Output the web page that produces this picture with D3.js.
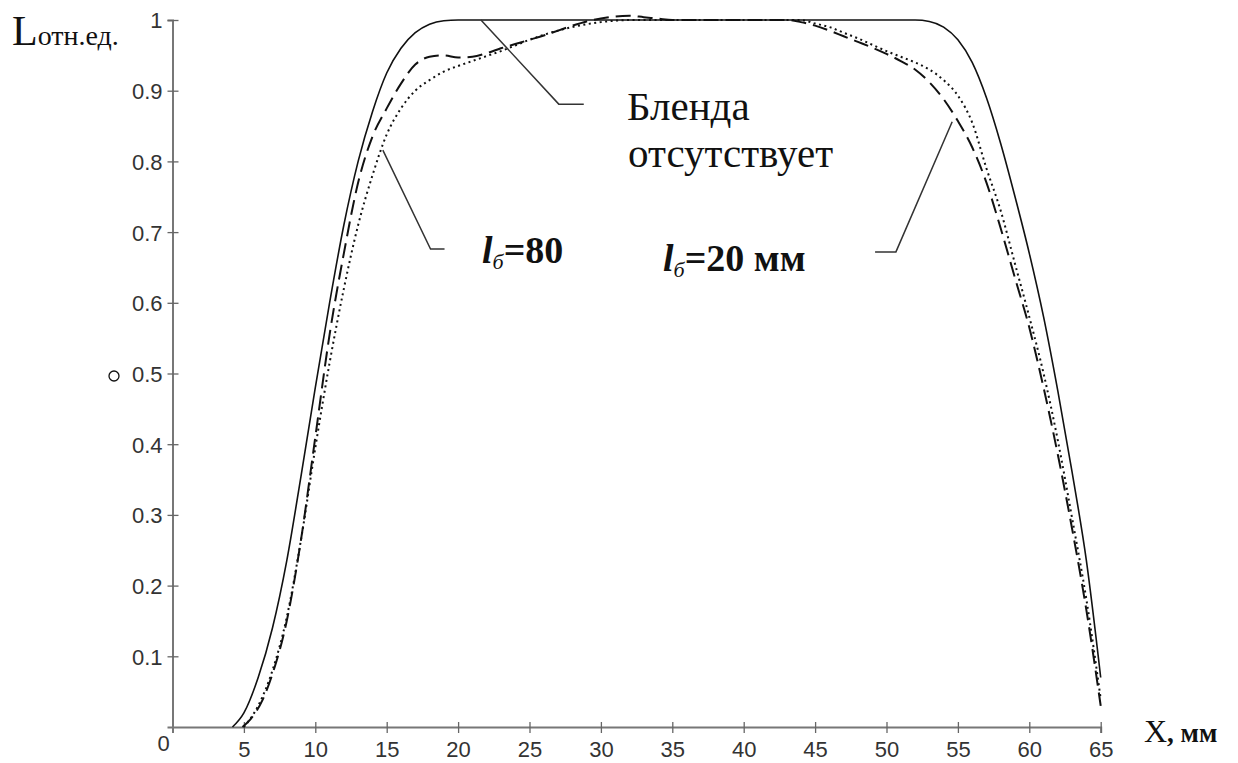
<!DOCTYPE html>
<html>
<head>
<meta charset="utf-8">
<script src="https://cdn.jsdelivr.net/npm/d3@7"></script>
<style>
  html, body { margin: 0; padding: 0; background: #fff; }
  svg { display: block; }
  .tick text { font-family: "Liberation Sans", Arial, sans-serif; font-size: 22px; fill: #333; }
</style>
</head>
<body>
<svg id="chart" width="1238" height="763"></svg>
<script>
// Luminance profile across the field, X in mm, L in relative units

// Tick labels
const xTicks = [5, 10, 15, 20, 25, 30, 35, 40, 45, 50, 55, 60, 65];
const yTicks = [0.1, 0.2, 0.3, 0.4, 0.5, 0.6, 0.7, 0.8, 0.9, 1];

// No hood (solid)
const noHoodX = [4.2, 5, 6, 7, 8, 9, 10, 11, 12, 13, 14, 15, 16, 17, 18, 19, 20, 25, 30, 35, 40, 45, 50, 52, 53, 54, 55, 56, 57, 58, 59, 60, 61, 62, 63, 64, 65];
const noHoodL = [0, 0.02, 0.07, 0.14, 0.235, 0.355, 0.48, 0.6, 0.71, 0.8, 0.87, 0.925, 0.96, 0.982, 0.994, 0.999, 1, 1, 1, 1, 1, 1, 1, 1, 0.998, 0.99, 0.972, 0.94, 0.89, 0.825, 0.75, 0.67, 0.58, 0.475, 0.36, 0.235, 0.07];

// Hood length 20 mm (long dashes)
const hood20X = [4.9, 5.5, 6.3, 7, 8, 9, 10, 11, 12, 13, 14, 15, 16, 17, 18, 19, 20, 21, 22, 23, 24, 25, 26, 27, 28, 29, 30, 31, 32, 33, 34, 35, 43, 44, 45, 46, 47, 48, 49, 50, 51, 52, 53, 54, 55, 56, 57, 58, 59, 60, 61, 62, 63, 64, 65];
const hood20L = [0, 0.012, 0.038, 0.075, 0.15, 0.265, 0.41, 0.555, 0.67, 0.77, 0.835, 0.875, 0.91, 0.937, 0.948, 0.95, 0.947, 0.948, 0.953, 0.96, 0.966, 0.972, 0.978, 0.985, 0.992, 0.998, 1.002, 1.005, 1.006, 1.004, 1.002, 1, 1, 0.997, 0.992, 0.985, 0.977, 0.969, 0.961, 0.952, 0.942, 0.93, 0.912, 0.888, 0.857, 0.82, 0.77, 0.705, 0.635, 0.565, 0.48, 0.385, 0.28, 0.165, 0.03];

// Hood length 80 mm (dotted)
const hood80X = [5, 6, 7, 8, 9, 10, 11, 12, 13, 14, 15, 16, 17, 18, 19, 20, 21, 22, 23, 24, 25, 26, 27, 28, 29, 30, 31, 32, 44, 45, 46, 47, 48, 49, 50, 51, 52, 53, 54, 55, 56, 57, 58, 59, 60, 61, 62, 63, 64, 65];
const hood80L = [0, 0.03, 0.08, 0.155, 0.265, 0.395, 0.515, 0.62, 0.71, 0.78, 0.838, 0.875, 0.9, 0.915, 0.927, 0.935, 0.942, 0.949, 0.956, 0.964, 0.972, 0.979, 0.985, 0.99, 0.994, 0.997, 0.999, 1, 1, 0.995, 0.99, 0.982, 0.974, 0.965, 0.956, 0.948, 0.94, 0.93, 0.915, 0.893, 0.855, 0.79, 0.73, 0.655, 0.58, 0.5, 0.405, 0.295, 0.18, 0.04];

const svg = d3.select("#chart");
const x = d3.scaleLinear().domain([0, 65]).range([172.5, 1100.7]);
const y = d3.scaleLinear().domain([0, 1]).range([727, 20]);

// Axes
const xAxis = d3.axisBottom(x).tickValues(xTicks).tickSize(6).tickPadding(8).tickFormat(d3.format("d"));
const gx = svg.append("g").attr("transform", `translate(0,${y(0)})`).call(xAxis);
gx.selectAll(".tick line").attr("y1", -5).attr("y2", 6).attr("stroke", "#666").attr("stroke-width", 1.3);
gx.select(".domain").attr("stroke", "#777").attr("stroke-width", 2);

const yAxis = d3.axisLeft(y).tickValues(yTicks).tickSize(5).tickPadding(5)
  .tickFormat(d => d === 1 ? "1" : d3.format(".1f")(d));
const gy = svg.append("g").attr("transform", `translate(${x(0)},0)`).call(yAxis);
gy.selectAll(".tick line").attr("x1", -5).attr("x2", 6).attr("stroke", "#666").attr("stroke-width", 1.3);
gy.select(".domain").attr("stroke", "#777").attr("stroke-width", 2);
gy.selectAll(".tick text").attr("dy", "0.36em");

// Origin label
svg.append("text").attr("x", x(0) - 9).attr("y", y(0) + 24)
  .attr("text-anchor", "middle")
  .style("font-family", "Liberation Sans, Arial, sans-serif").style("font-size", "22px").style("fill", "#333")
  .text("0");

// Axis titles
const serif = "Liberation Serif, Times New Roman, serif";
const yTitle = svg.append("text").attr("x", 12).attr("y", 45)
  .style("font-family", serif).style("fill", "#111");
yTitle.append("tspan").style("font-size", "42px").text("L");
yTitle.append("tspan").style("font-size", "28px").text("отн.ед.");

const xTitle = svg.append("text").attr("x", 1144).attr("y", 742)
  .style("font-family", serif).style("fill", "#111");
xTitle.append("tspan").style("font-size", "32px").text("X");
xTitle.append("tspan").style("font-size", "27px").style("font-weight", "bold").text(", мм");

// Curves
const line = d3.line().x(d => x(d[0])).y(d => y(d[1])).curve(d3.curveMonotoneX);
const series = [
  { xs: noHoodX, ls: noHoodL, dash: null, w: 1.6 },
  { xs: hood20X, ls: hood20L, dash: "15,7", w: 2 },
  { xs: hood80X, ls: hood80L, dash: "2,3.5", w: 2 }
];
series.forEach(s => {
  svg.append("path")
    .datum(d3.zip(s.xs, s.ls))
    .attr("d", line)
    .attr("fill", "none")
    .attr("stroke", "#111")
    .attr("stroke-width", s.w)
    .attr("stroke-dasharray", s.dash);
});

// Leader lines (data coordinates)
const leaders = [
  [[21.6, 1.0], [27.05, 0.881], [28.8, 0.881]],
  [[14.73, 0.816], [18.07, 0.676], [19.05, 0.676]],
  [[49.2, 0.672], [50.66, 0.672], [54.6, 0.856]]
];
const plain = d3.line().x(d => x(d[0])).y(d => y(d[1]));
leaders.forEach(pts => {
  svg.append("path").attr("d", plain(pts)).attr("fill", "none")
    .attr("stroke", "#333").attr("stroke-width", 1.5);
});

// Annotation texts
svg.append("text").attr("x", 627).attr("y", 120)
  .style("font-family", serif).style("font-size", "41px").style("fill", "#111").text("Бленда");
svg.append("text").attr("x", 628).attr("y", 167)
  .style("font-family", serif).style("font-size", "41px").style("fill", "#111").text("отсутствует");

function hoodLabel(px, py, rest) {
  const t = svg.append("text").attr("x", px).attr("y", py)
    .style("font-family", serif).style("font-size", "38px").style("fill", "#111").style("font-weight", "bold");
  t.append("tspan").style("font-style", "italic").text("l");
  t.append("tspan").style("font-style", "italic").style("font-weight", "normal").style("font-size", "22px").attr("dy", 6).text("б");
  t.append("tspan").attr("dy", -6).text(rest);
}
hoodLabel(482, 263, "=80");
hoodLabel(663, 271, "=20 мм");

// Small circle marker at the left of the axis
svg.append("circle").attr("cx", 114).attr("cy", 376).attr("r", 5)
  .attr("fill", "none").attr("stroke", "#111").attr("stroke-width", 1.3);
</script>
</body>
</html>
